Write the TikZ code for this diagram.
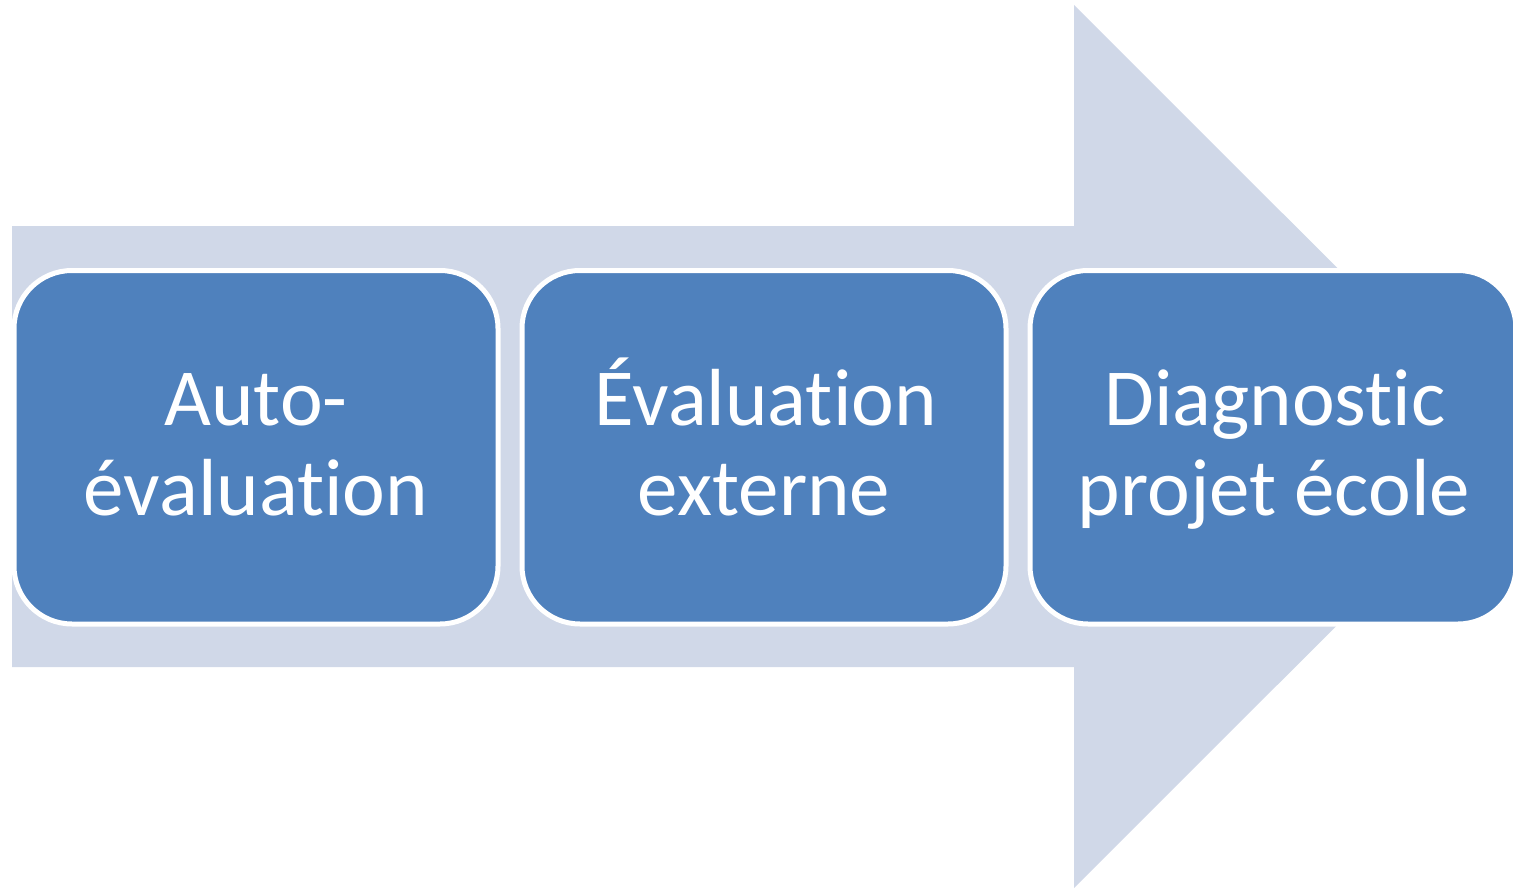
\documentclass[tikz,border=0pt]{standalone}
\usepackage{fontspec}
\setmainfont[Ligatures={NoCommon,NoRare,NoContextual}]{Carlito}
\definecolor{arrowfill}{HTML}{D0D8E8}
\definecolor{boxfill}{HTML}{4F81BD}
\begin{document}
\begin{tikzpicture}[x=1pt,y=-1pt,
  stepbox/.style={fill=boxfill,draw=white,line width=5pt,rounded corners=58pt},
  steptext/.style={text=white,font=\fontsize{81}{90}\selectfont,anchor=base,inner sep=0pt}]
\useasboundingbox (0,0) rectangle (1513,888);
\begin{scope}
\clip (0,0) rectangle (1513,888);
% background arrow
\fill[arrowfill] (12,226) -- (1074,226) -- (1074,5) -- (1516,446.5) -- (1074,888) -- (1074,667) -- (12,667) -- cycle;
% boxes
\draw[stepbox] (14,270.5) rectangle (498,624);
\draw[stepbox] (522,270.5) rectangle (1006,624);
\draw[stepbox] (1030,270.5) rectangle (1516,624);
\end{scope}
\node[steptext] (a1) at (256,425) {Auto-};
\node[steptext] (a2) at (256,515) {évaluation};
\node[steptext] (b1) at (766,425) {Évaluation};
\node[steptext] (b2) at (764,515) {externe};
\node[steptext] (c1) at (1275,425) {Diagnostic};
\node[steptext] (c2) at (1274,515) {projet école};
\end{tikzpicture}
\end{document}
